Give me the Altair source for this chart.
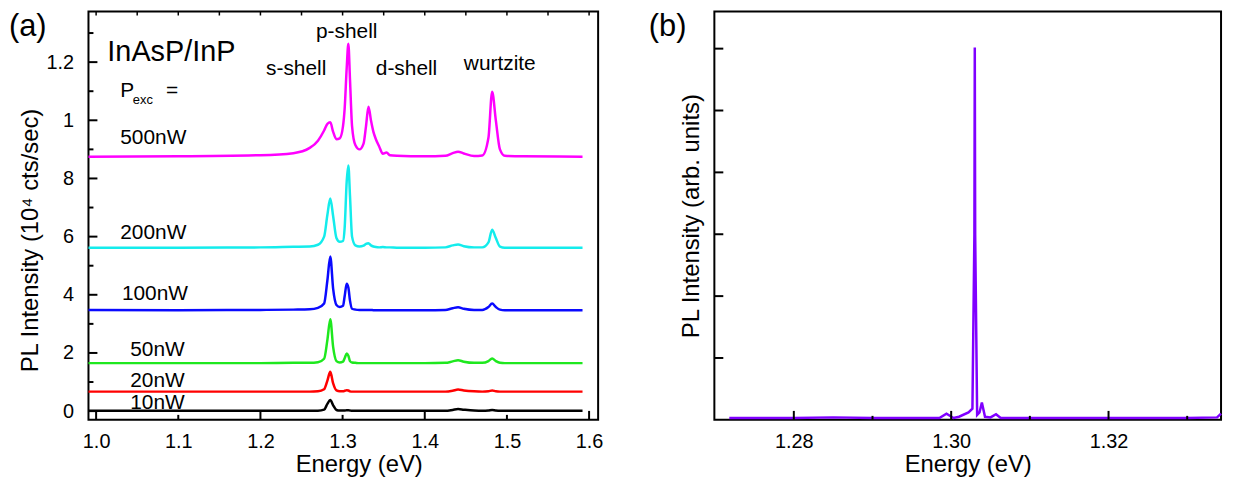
import altair as alt
import pandas as pd

# ---------------- panel (a) data ----------------
energy_a = [0.9907, 1.10, 1.20, 1.24, 1.26, 1.27, 1.2775, 1.2815, 1.285, 1.2885,
            1.2925, 1.2965, 1.3005, 1.3025, 1.305, 1.307, 1.309, 1.3115, 1.3155, 1.3205,
            1.3255, 1.3285, 1.3315, 1.3345, 1.3375, 1.3405, 1.3445, 1.349, 1.3535, 1.3575,
            1.366, 1.40, 1.425, 1.434, 1.4405, 1.4475, 1.46, 1.47, 1.4775, 1.482,
            1.4865, 1.4915, 1.4975, 1.52, 1.592]

int_10nW = [0.01, 0.01, 0.01, 0.01, 0.01, 0.015, 0.05, 0.25, 0.38, 0.20,
            0.04, 0.02, 0.02, 0.02, 0.03, 0.03, 0.02, 0.01, 0.01, 0.01,
            0.01, 0.01, 0.01, 0.01, 0.01, 0.01, 0.01, 0.01, 0.01, 0.01,
            0.01, 0.01, 0.01, 0.04, 0.07, 0.05, 0.02, 0.01, 0.02, 0.04,
            0.02, 0.01, 0.01, 0.01, 0.01]
int_20nW = [0.67, 0.67, 0.67, 0.67, 0.67, 0.68, 0.75, 1.05, 1.35, 0.95,
            0.71, 0.68, 0.68, 0.70, 0.72, 0.71, 0.68, 0.67, 0.67, 0.67,
            0.67, 0.67, 0.67, 0.67, 0.67, 0.67, 0.67, 0.67, 0.67, 0.67,
            0.67, 0.67, 0.67, 0.70, 0.74, 0.71, 0.68, 0.67, 0.68, 0.71,
            0.68, 0.67, 0.67, 0.67, 0.67]
int_50nW = [1.65, 1.65, 1.65, 1.66, 1.66, 1.68, 1.80, 2.45, 3.16, 2.20,
            1.72, 1.67, 1.70, 1.82, 1.98, 1.90, 1.72, 1.67, 1.66, 1.65,
            1.65, 1.65, 1.65, 1.65, 1.65, 1.65, 1.65, 1.65, 1.65, 1.65,
            1.65, 1.65, 1.66, 1.71, 1.75, 1.70, 1.66, 1.66, 1.72, 1.81,
            1.72, 1.66, 1.65, 1.65, 1.65]
int_100nW = [3.48, 3.47, 3.48, 3.49, 3.50, 3.55, 3.70, 4.50, 5.32, 4.20,
             3.65, 3.58, 3.62, 3.95, 4.38, 4.25, 3.80, 3.52, 3.49, 3.48,
             3.48, 3.48, 3.48, 3.48, 3.47, 3.47, 3.47, 3.47, 3.47, 3.47,
             3.47, 3.47, 3.48, 3.54, 3.57, 3.52, 3.48, 3.48, 3.58, 3.70,
             3.58, 3.49, 3.47, 3.47, 3.47]
int_200nW = [5.62, 5.62, 5.63, 5.65, 5.66, 5.72, 6.00, 6.75, 7.31, 6.70,
             5.95, 5.82, 5.85, 6.30, 7.90, 8.45, 7.40, 6.00, 5.70, 5.66,
             5.69, 5.75, 5.77, 5.70, 5.66, 5.64, 5.63, 5.64, 5.63, 5.63,
             5.62, 5.62, 5.63, 5.70, 5.73, 5.67, 5.63, 5.63, 5.80, 6.24,
             5.95, 5.66, 5.62, 5.62, 5.62]
int_500nW = [8.75, 8.76, 8.80, 8.87, 9.05, 9.30, 9.65, 9.88, 9.93, 9.60,
             9.35, 9.38, 9.80, 10.40, 11.80, 12.63, 11.40, 9.80, 9.15, 9.00,
             9.20, 9.80, 10.47, 10.00, 9.60, 9.35, 9.10, 8.85, 8.89, 8.80,
             8.78, 8.76, 8.78, 8.87, 8.92, 8.86, 8.77, 8.79, 9.40, 10.98,
             10.00, 9.00, 8.78, 8.76, 8.75]

series_names = ["10nW", "20nW", "50nW", "100nW", "200nW", "500nW"]
series_colors = ["#000000", "#ff0000", "#1ee81e", "#0a0aff", "#14ecec", "#ff00ff"]
series_values = [int_10nW, int_20nW, int_50nW, int_100nW, int_200nW, int_500nW]

# power labels (left aligned)
power_label_text = ["500nW", "200nW", "100nW", "50nW", "20nW", "10nW"]
power_label_e = [1.0294, 1.0294, 1.0314, 1.0415, 1.0415, 1.0415]
power_label_i = [9.39, 6.13, 4.03, 2.09, 1.02, 0.29]

# other left-aligned annotations
note_text = ["InAsP/InP", "P", "exc", "="]
note_e = [1.0137, 1.0294, 1.0446, 1.0852]
note_i = [12.36, 11.01, 10.68, 11.01]
note_size = [29, 21, 13, 21]

# peak labels (centered)
shell_text = ["s-shell", "p-shell", "d-shell", "wurtzite"]
shell_e = [1.2435, 1.305, 1.3778, 1.4913]
shell_i = [11.75, 13.03, 11.75, 11.92]

a_xticks = [1.0, 1.1, 1.2, 1.3, 1.4, 1.5, 1.6]
a_xmajor = [1.0, 1.2, 1.4, 1.6]
a_xminor = [1.1, 1.3, 1.5]
a_xtop = [1.0, 1.05, 1.1, 1.15, 1.2, 1.25, 1.3, 1.35, 1.4, 1.45, 1.5, 1.55, 1.6]
a_yticks = [0, 2, 4, 6, 8, 10, 12]
a_yminor = [1, 3, 5, 7, 9, 11, 13]

# ---------------- panel (b) data ----------------
energy_b = [1.2718, 1.28, 1.285, 1.29, 1.295, 1.2985, 1.2994, 1.3003, 1.301, 1.3022,
            1.3027, 1.30295, 1.3030, 1.30305, 1.3033, 1.3036, 1.3039, 1.3043, 1.305, 1.3057,
            1.3063, 1.31, 1.32, 1.33, 1.3338, 1.3343]
int_b = [0.03, 0.03, 0.04, 0.03, 0.03, 0.03, 0.10, 0.03, 0.05, 0.12,
         0.18, 3.00, 6.02, 3.00, 0.08, 0.12, 0.28, 0.05, 0.04, 0.09,
         0.03, 0.03, 0.03, 0.03, 0.04, 0.10]
b_xticks = [1.28, 1.30, 1.32]
b_xminor = [1.29, 1.31, 1.33]
b_yticks = [1, 2, 3, 4, 5, 6]

panel_labels = ["(a)", "(b)"]

FONT = "Liberation Sans"
W_A, H_A = 513, 411
W_B, H_B = 510, 411

# ---------------- tables ----------------
rows = []
for name, vals in zip(series_names, series_values):
    for e, v in zip(energy_a, vals):
        rows.append({"E": e, "I": v, "series": name})
df_a = pd.DataFrame(rows)
df_power = pd.DataFrame({"E": power_label_e, "I": power_label_i, "t": power_label_text})
df_note = pd.DataFrame({"E": note_e, "I": note_i, "t": note_text, "s": note_size})
df_shell = pd.DataFrame({"E": shell_e, "I": shell_i, "t": shell_text})
df_b = pd.DataFrame({"E": energy_b, "I": int_b})

# ---------------- scales / axes ----------------
xs_a = alt.Scale(domain=[0.9907, 1.611], nice=False, zero=False)
ys_a = alt.Scale(domain=[-0.3, 13.74], nice=False, zero=False)
xs_b = alt.Scale(domain=[1.2699, 1.3343], nice=False, zero=False)
ys_b = alt.Scale(domain=[0, 6.6], nice=False, zero=False)

common = dict(ticks=False, tickSize=0, domain=False, grid=False,
              labelFont=FONT, labelFontSize=20, labelColor="black",
              titleFont=FONT, titleFontSize=24, titleFontWeight="normal",
              titleColor="black", labelFlush=False)

xa_axis = alt.Axis(values=a_xticks, format=".1f", labelPadding=12,
                   minExtent=30, maxExtent=30, titlePadding=3,
                   title="Energy (eV)", titleX=272, **common)
ya_axis = alt.Axis(values=a_yticks, labelPadding=15,
                   labelExpr="datum.value == 10 ? '1' : (datum.value == 12 ? '1.2' : datum.label)",
                   minExtent=46, maxExtent=46, titlePadding=0, titleY=230,
                   title="PL Intensity (10⁴ cts/sec)", **common)
xb_axis = alt.Axis(values=b_xticks, format=".2f", labelPadding=12,
                   minExtent=30, maxExtent=30, titlePadding=3,
                   title="Energy (eV)", **common)
yb_axis = alt.Axis(labels=False, minExtent=0, maxExtent=0, titlePadding=11,
                   title="PL Intensity (arb. units)", **common)


def XA(f="E"):
    return alt.X(f"{f}:Q", scale=xs_a, axis=xa_axis)


def YA(f="I"):
    return alt.Y(f"{f}:Q", scale=ys_a, axis=ya_axis)


def XB(f="E"):
    return alt.X(f"{f}:Q", scale=xs_b, axis=xb_axis)


def YB(f="I"):
    return alt.Y(f"{f}:Q", scale=ys_b, axis=yb_axis)


def vtick(vals, scale_fn, height, length):
    d = pd.DataFrame({"E": vals})
    return alt.Chart(d).mark_rule(color="black", strokeWidth=2).encode(
        x=scale_fn("E"), y=alt.value(height), y2=alt.value(height - length))


def toptick(vals, scale_fn, length):
    d = pd.DataFrame({"E": vals})
    return alt.Chart(d).mark_rule(color="black", strokeWidth=1.5).encode(
        x=scale_fn("E"), y=alt.value(0), y2=alt.value(length))


def htick(vals, scale_fn, length):
    d = pd.DataFrame({"I": vals})
    return alt.Chart(d).mark_rule(color="black", strokeWidth=2).encode(
        y=scale_fn("I"), x=alt.value(0), x2=alt.value(length))


# ---------------- panel (a) ----------------
lines_a = alt.Chart(df_a).mark_line(strokeWidth=2.5, interpolate="monotone").encode(
    x=XA(), y=YA(),
    color=alt.Color("series:N", scale=alt.Scale(domain=series_names, range=series_colors), legend=None),
)
power_txt = alt.Chart(df_power).mark_text(align="left", baseline="middle", font=FONT,
                                          fontSize=21, color="black").encode(
    x=XA(), y=YA(), text="t:N")
note_txt = alt.Chart(df_note).mark_text(align="left", baseline="middle", font=FONT,
                                        color="black").encode(
    x=XA(), y=YA(), text="t:N", size=alt.Size("s:Q", scale=None))
shell_txt = alt.Chart(df_shell).mark_text(align="center", baseline="middle", font=FONT,
                                          fontSize=21, color="black").encode(
    x=XA(), y=YA(), text="t:N")
label_a = alt.Chart(pd.DataFrame({"t": [panel_labels[0]]})).mark_text(
    align="left", baseline="middle", font=FONT, fontSize=31, color="black").encode(
    x=alt.value(-80), y=alt.value(15.5), text="t:N")

panel_a = alt.layer(
    lines_a,
    htick(a_yticks, YA, 9), htick(a_yminor, YA, 5),
    vtick(a_xmajor, XA, H_A, 9), vtick(a_xminor, XA, H_A, 5),
    toptick(a_xtop, XA, 4),
    power_txt, note_txt, shell_txt, label_a,
).properties(width=W_A, height=H_A)

# ---------------- panel (b) ----------------
line_b = alt.Chart(df_b).mark_line(strokeWidth=2.5, color="#7f00ff").encode(x=XB(), y=YB())
label_b = alt.Chart(pd.DataFrame({"t": [panel_labels[1]]})).mark_text(
    align="left", baseline="middle", font=FONT, fontSize=31, color="black").encode(
    x=alt.value(-66), y=alt.value(15.5), text="t:N")

panel_b = alt.layer(
    line_b,
    htick(b_yticks, YB, 9),
    vtick(b_xticks, XB, H_B, 9), vtick(b_xminor, XB, H_B, 4),
    label_b,
).properties(width=W_B, height=H_B)

chart = alt.hconcat(panel_a, panel_b, spacing=44).properties(padding=0).configure(
    background="white").configure_view(stroke="black", strokeWidth=2)

chart.save("out.html", embed_options={"renderer": "svg", "actions": False})
